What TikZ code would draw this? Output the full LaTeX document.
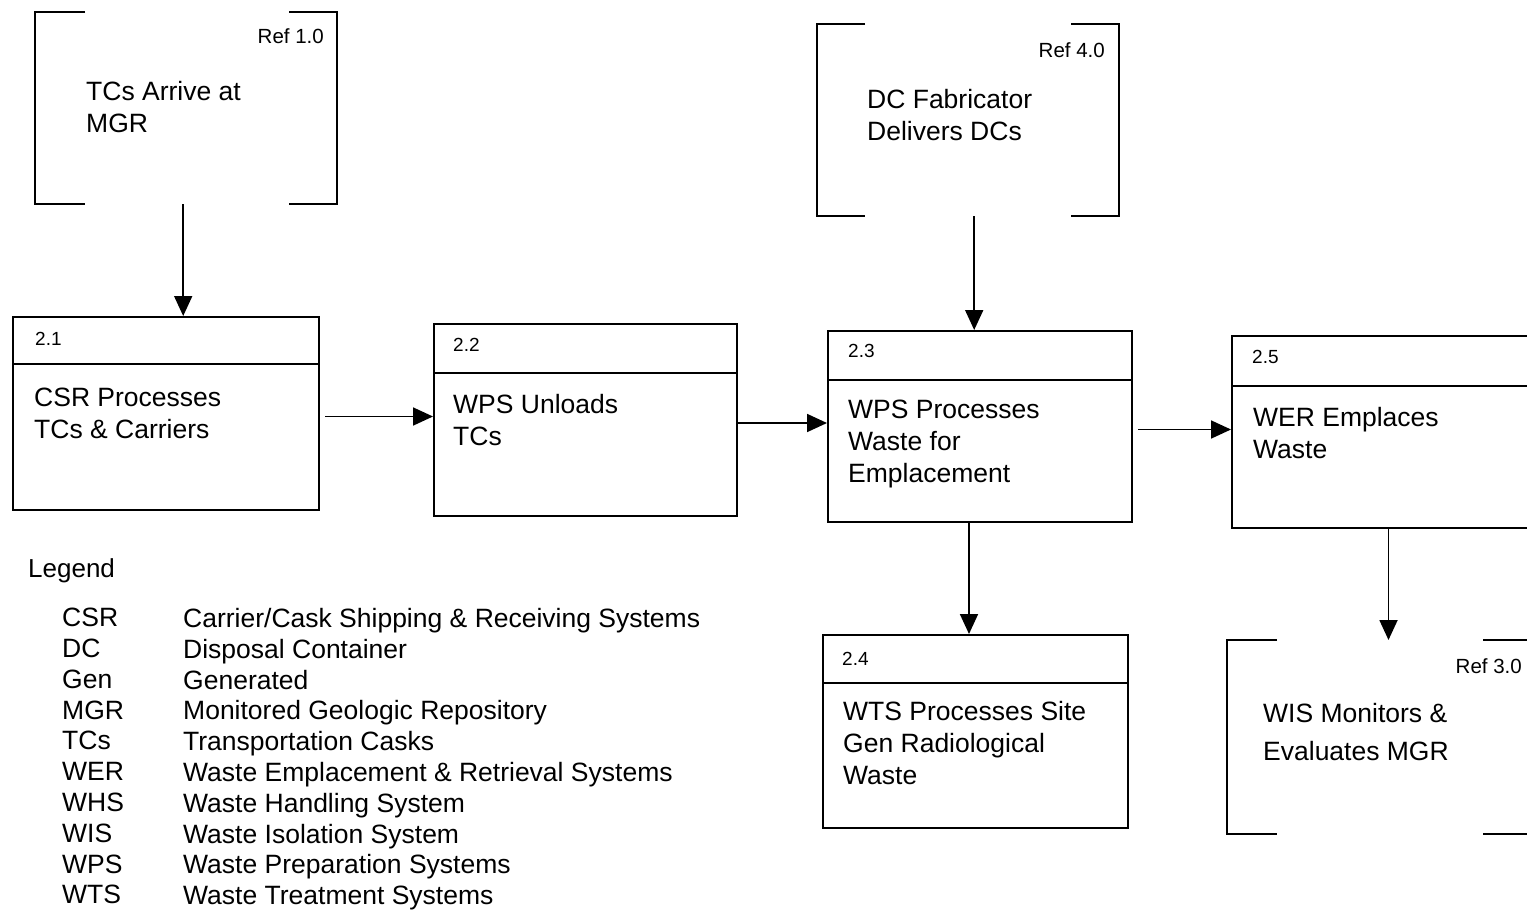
\documentclass[tikz,border=0pt]{standalone}
\usepackage{fontspec}
\setmainfont{Liberation Sans}
\usetikzlibrary{arrows.meta,calc}
\begin{document}
\begin{tikzpicture}[x=1pt,y=-1pt,
  ln/.style={line width=2pt},
  procbox/.style={draw,line width=2pt,rectangle,inner sep=0pt,anchor=north west,minimum width=#1},
  procbox/.default=305pt,
  extbox/.style={rectangle,inner sep=0pt,anchor=north west,minimum width=302pt},
  arr/.style={line width=1.8pt,-{Triangle[length=20pt,width=18pt]}},
  txt/.style={anchor=north west,inner sep=0pt,align=left,font=\fontsize{26.5}{32}\selectfont},
  num/.style={anchor=north west,inner sep=0pt,font=\fontsize{19}{21}\selectfont},
  reflbl/.style={anchor=north east,inner sep=0pt,font=\fontsize{20.5}{22}\selectfont},
  leg/.style={anchor=north west,inner sep=0pt,align=left,font=\fontsize{26.5}{30.8}\selectfont}
]
\clip (0,0) rectangle (1527,913);
\fill[white] (0,0) rectangle (1527,913);

% external entities (brackets)
\node[extbox,minimum height=192pt] (ref1) at (35,12) {};
\node[extbox,minimum height=192pt] (ref4) at (817,24) {};
\node[extbox,minimum height=194pt] (ref3) at (1227,640) {};
\foreach \r/\l/\rr in {ref1/50/48, ref4/48/48, ref3/50/46}{
  \draw[ln] ([xshift=\l pt]\r.north west) -- (\r.north west) -- (\r.south west) -- ([xshift=\l pt]\r.south west);
  \draw[ln] ([xshift=-\rr pt]\r.north east) -- (\r.north east) -- (\r.south east) -- ([xshift=-\rr pt]\r.south east);
}
\node[reflbl] (r1l) at (324,28) {Ref 1.0};
\node[txt] (r1t) at (86,81) {TCs Arrive at\\MGR};
\node[reflbl] (r4l) at (1105,42) {Ref 4.0};
\node[txt] (r4t) at (867,89) {DC Fabricator\\Delivers DCs};
\node[reflbl] (r3l) at (1522,658) {Ref 3.0};
\node[txt,font=\fontsize{26.5}{38}\selectfont] (r3t) at (1263,703) {WIS Monitors \&\\Evaluates MGR};

% process boxes
\node[procbox=306pt,minimum height=193pt] (b21) at (12,316) {};
\node[procbox=303pt,minimum height=192pt] (b22) at (433,323) {};
\node[procbox=304pt,minimum height=191pt] (b23) at (827,330) {};
\node[procbox=309pt,minimum height=192pt] (b25) at (1231,335) {};
\node[procbox=305pt,minimum height=193pt] (b24) at (822,634) {};
\foreach \b/\d in {b21/48, b22/50, b23/50, b25/51, b24/49}{
  \draw[ln] ([yshift=-\d pt]\b.north west) -- ([yshift=-\d pt]\b.north east);
}
\node[num] (n21) at (35,332) {2.1};
\node[txt] (t21) at (34,388) {CSR Processes\\TCs \& Carriers};
\node[num] (n22) at (453,338) {2.2};
\node[txt] (t22) at (453,394) {WPS Unloads\\TCs};
\node[num] (n23) at (848,344) {2.3};
\node[txt] (t23) at (848,400) {WPS Processes\\Waste for\\Emplacement};
\node[num] (n25) at (1252,350) {2.5};
\node[txt] (t25) at (1253,407) {WER Emplaces\\Waste};
\node[num] (n24) at (842,652) {2.4};
\node[txt] (t24) at (843,701) {WTS Processes Site\\Gen Radiological\\Waste};

% connectors
\coordinate (s1) at ([xshift=-3pt]ref1.south);
\coordinate (s2) at ([xshift=5pt,yshift=-3pt]b21.east);
\coordinate (s3) at ([yshift=-3pt]b22.east);
\coordinate (s4) at ([xshift=5pt,yshift=-3pt]b23.east);
\coordinate (s5) at ([xshift=6pt]ref4.south);
\coordinate (s6) at ([xshift=-11pt]b23.south);
\coordinate (s7) at ([xshift=2pt]b25.south);
\draw[arr] (s1) -- (s1 |- b21.north);
\draw[arr] (s2) -- (s2 -| b22.west);
\draw[arr] (s3) -- (s3 -| b23.west);
\draw[arr] (s4) -- (s4 -| b25.west);
\draw[arr] (s5) -- (s5 |- b23.north);
\draw[arr] (s6) -- (s6 |- b24.north);
\draw[arr] (s7) -- (s7 |- ref3.north);

% legend
\node[anchor=north west,inner sep=0pt,font=\fontsize{26}{30}\selectfont] (legt) at (28,558) {Legend};
\node[leg] (lega) at (62,608) {CSR\\DC\\Gen\\MGR\\TCs\\WER\\WHS\\WIS\\WPS\\WTS};
\node[leg] (legd) at (183,608) {Carrier/Cask Shipping \& Receiving Systems\\Disposal Container\\Generated\\Monitored Geologic Repository\\Transportation Casks\\Waste Emplacement \& Retrieval Systems\\Waste Handling System\\Waste Isolation System\\Waste Preparation Systems\\Waste Treatment Systems};
\end{tikzpicture}
\end{document}
